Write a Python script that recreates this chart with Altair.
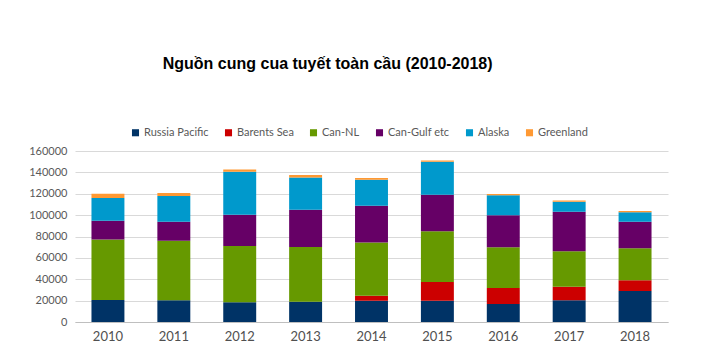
import altair as alt
import pandas as pd

years = ["2010", "2011", "2012", "2013", "2014", "2015", "2016", "2017", "2018"]
series = ["Russia Pacific", "Barents Sea", "Can-NL", "Can-Gulf etc", "Alaska", "Greenland"]
colors = ["#003366", "#cc0000", "#669900", "#660066", "#0099cc", "#ff9933"]

russia_pacific = [20600, 20300, 18400, 19000, 20000, 20000, 16800, 20300, 29000]
barents_sea = [0, 0, 0, 0, 4600, 17400, 15000, 12700, 10000]
can_nl = [56700, 55700, 52600, 51200, 49900, 47400, 38100, 33100, 29900]
can_gulf = [17500, 17800, 29400, 34800, 34300, 34200, 30100, 37100, 24900]
alaska = [21200, 24200, 40200, 30300, 24400, 31000, 18500, 9400, 8800]
greenland = [4000, 2600, 2200, 2200, 1500, 1200, 1200, 1200, 1200]

values = [russia_pacific, barents_sea, can_nl, can_gulf, alaska, greenland]
rows = []
for si, (name, vals) in enumerate(zip(series, values)):
    for y, v in zip(years, vals):
        rows.append({"Year": y, "Series": name, "Value": v, "Order": si})
df = pd.DataFrame(rows)

font = "Lato"

chart = alt.Chart(df).mark_bar().encode(
    x=alt.X("Year:N", sort=years,
            scale=alt.Scale(paddingInner=0.5, paddingOuter=0.25),
            axis=alt.Axis(title=None, labelAngle=0, ticks=False, domain=True,
                          domainColor="#bfbfbf", labelFontSize=13, labelColor="#505050",
                          labelFont=font, labelPadding=8)),
    y=alt.Y("Value:Q", stack="zero",
            scale=alt.Scale(domain=[0, 160000], nice=False),
            axis=alt.Axis(title=None, values=list(range(0, 160001, 20000)), format="d",
                          ticks=False, domain=False, gridColor="#d9d9d9",
                          labelFontSize=11, labelColor="#595959", labelFont=font,
                          labelPadding=8)),
    color=alt.Color("Series:N", sort=series,
                    scale=alt.Scale(domain=series, range=colors),
                    legend=alt.Legend(title=None, orient="none", direction="horizontal",
                                      legendX=55, legendY=-24, symbolType="square",
                                      symbolSize=50, symbolStrokeWidth=0,
                                      labelFontSize=11, labelColor="#595959",
                                      labelFont=font, labelOffset=3, columnPadding=14,
                                      padding=0)),
    order=alt.Order("Order:Q", sort="ascending"),
).properties(
    width=593,
    height=171,
    background="white",
    title=alt.TitleParams("Nguồn cung cua tuyết toàn cầu (2010-2018)", anchor="start",
                          dx=134, offset=55, fontSize=16, font="Liberation Sans",
                          fontWeight="bold", color="#000000"),
    autosize=alt.AutoSizeParams(type="none"),
    padding={"left": 75, "top": 151, "right": 33, "bottom": 31},
).configure_view(stroke=None)

chart.save("out.html", embed_options={"renderer": "svg", "actions": False})
